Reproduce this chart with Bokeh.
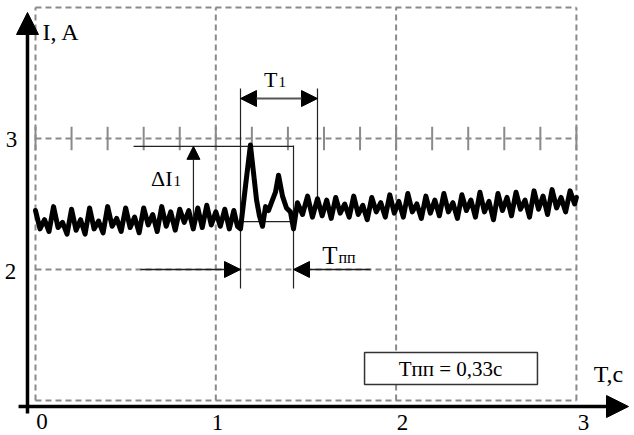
from bokeh.plotting import figure
from bokeh.models import Arrow, NormalHead, Label, Range1d
from bokeh.embed import file_html
from bokeh.resources import INLINE

# ---- data ----
t_vals = [0.000, 0.025, 0.050, 0.075, 0.100, 0.125, 0.150, 0.175, 0.200, 0.225,
          0.250, 0.275, 0.300, 0.325, 0.350, 0.375, 0.400, 0.425, 0.450, 0.475,
          0.500, 0.525, 0.550, 0.575, 0.600, 0.625, 0.650, 0.675, 0.700, 0.725,
          0.750, 0.775, 0.800, 0.825, 0.850, 0.875, 0.900, 0.925, 0.950, 0.975,
          1.000, 1.025, 1.050, 1.075, 1.100, 1.120, 1.137, 1.165, 1.192, 1.209,
          1.226, 1.242, 1.259, 1.276, 1.292, 1.314, 1.331, 1.348, 1.370, 1.392,
          1.414, 1.431, 1.453, 1.481, 1.509, 1.536, 1.564, 1.590, 1.615, 1.640,
          1.665, 1.690, 1.715, 1.740, 1.765, 1.790, 1.815, 1.840, 1.865, 1.890,
          1.915, 1.940, 1.965, 1.990, 2.015, 2.040, 2.065, 2.090, 2.115, 2.140,
          2.165, 2.190, 2.215, 2.240, 2.265, 2.290, 2.315, 2.340, 2.365, 2.390,
          2.415, 2.440, 2.465, 2.490, 2.515, 2.540, 2.565, 2.590, 2.615, 2.640,
          2.665, 2.690, 2.715, 2.740, 2.765, 2.790, 2.815, 2.840, 2.865, 2.890,
          2.915, 2.940, 2.965, 2.990, 3.000]
i_vals = [2.45, 2.31, 2.38, 2.29, 2.48, 2.32, 2.36, 2.27, 2.46, 2.30,
          2.38, 2.27, 2.47, 2.31, 2.37, 2.28, 2.48, 2.33, 2.39, 2.29,
          2.47, 2.32, 2.40, 2.28, 2.47, 2.34, 2.42, 2.29, 2.48, 2.33,
          2.44, 2.30, 2.46, 2.36, 2.45, 2.31, 2.47, 2.32, 2.49, 2.34,
          2.44, 2.33, 2.46, 2.31, 2.45, 2.33, 2.31, 2.64, 2.95, 2.74,
          2.53, 2.41, 2.33, 2.48, 2.45, 2.53, 2.59, 2.72, 2.56, 2.47,
          2.44, 2.31, 2.51, 2.42, 2.56, 2.40, 2.54, 2.41, 2.53, 2.39,
          2.55, 2.43, 2.50, 2.40, 2.56, 2.42, 2.49, 2.38, 2.55, 2.44,
          2.51, 2.40, 2.57, 2.43, 2.52, 2.40, 2.58, 2.44, 2.50, 2.39,
          2.56, 2.43, 2.53, 2.41, 2.58, 2.44, 2.51, 2.39, 2.57, 2.45,
          2.53, 2.40, 2.59, 2.44, 2.52, 2.38, 2.58, 2.45, 2.55, 2.41,
          2.59, 2.46, 2.53, 2.40, 2.60, 2.46, 2.56, 2.42, 2.61, 2.47,
          2.55, 2.44, 2.60, 2.50, 2.55]

grid_t = [0, 1, 2, 3]
grid_i = [1, 2, 3, 4]
tick_t = [0.0, 0.2, 0.4, 0.6, 0.8, 1.0, 1.2, 1.4, 1.6, 1.8, 2.0, 2.2, 2.4, 2.6, 2.8, 3.0]
x_tick_labels = ["0", "1", "2", "3"]
y_tick_labels = ["3", "2"]
box_text = "Tпп = 0,33c"

FONT = "Liberation Serif"

p = figure(width=634, height=435, x_range=Range1d(-0.1941, 3.3222),
           y_range=Range1d(0.7328, 4.0534), output_backend="svg",
           toolbar_location=None, x_axis_type=None, y_axis_type=None,
           min_border=0, min_border_left=0, min_border_right=0,
           min_border_top=0, min_border_bottom=0)
p.grid.visible = False
p.outline_line_color = None
p.background_fill_color = "white"
p.border_fill_color = "white"

GRID = "#8a8a8a"
# dashed grid
p.segment(x0=grid_t, x1=grid_t, y0=[grid_i[0]] * 4, y1=[grid_i[-1]] * 4,
          line_color=GRID, line_width=2, line_dash="6 4")
p.segment(x0=[grid_t[0]] * 4, x1=[grid_t[-1]] * 4, y0=grid_i, y1=grid_i,
          line_color=GRID, line_width=2, line_dash="6 4")
# small ticks on the I=3 line
p.segment(x0=tick_t, x1=tick_t, y0=[3 - 0.09] * len(tick_t), y1=[3 + 0.09] * len(tick_t),
          line_color=GRID, line_width=2)

# info box
p.quad(left=[1.825], right=[2.784], bottom=[1.122], top=[1.366],
       fill_color="white", line_color="#333333", line_width=1.5)

# thin construction lines
LC = "#222222"
p.segment(x0=[1.137, 1.431, 1.564, 0.544, 1.137],
          x1=[1.137, 1.431, 1.564, 1.431, 1.431],
          y0=[1.855, 1.855, 2.55, 2.94, 2.366],
          y1=[3.382, 2.947, 3.382, 2.94, 2.366],
          line_color=LC, line_width=1.2)

# signal
p.line(t_vals, i_vals, line_color="black", line_width=5, line_join="round",
       line_cap="round")

def head(sz):
    return NormalHead(size=sz, fill_color="black", line_color="black")

# axes
p.add_layout(Arrow(end=head(22), x_start=-0.0444, y_start=0.90, x_end=-0.0444, y_end=3.962,
                   line_color="black", line_width=3.5))
p.add_layout(Arrow(end=head(22), x_start=-0.094, y_start=0.954, x_end=3.289, y_end=0.954,
                   line_color="black", line_width=3.5))
# T1 double arrow
p.add_layout(Arrow(start=head(16), end=head(16), x_start=1.137, y_start=3.305,
                   x_end=1.564, y_end=3.305, line_color="#555555", line_width=2))
# delta I arrow
p.add_layout(Arrow(end=head(13), x_start=0.876, y_start=2.40, x_end=0.876, y_end=2.94,
                   line_color=LC, line_width=1.2))
# Tpp arrows
p.add_layout(Arrow(end=head(16), x_start=0.582, y_start=2.0, x_end=1.137, y_end=2.0,
                   line_color=LC, line_width=1.5))
p.add_layout(Arrow(end=head(16), x_start=1.858, y_start=2.0, x_end=1.431, y_end=2.0,
                   line_color=LC, line_width=1.5))

def lab(x, y, text, size, align="left"):
    p.add_layout(Label(x=x, y=y, text=text, text_font=FONT, text_font_size=size,
                       text_color="black", text_align=align, text_baseline="middle"))

lab(0.039, 3.813, "I, A", "24px")
for yy, tx, txt in zip([2.992, 1.985], [-0.133, -0.139], y_tick_labels):
    lab(tx, yy, txt, "23px", align="center")
for xx, yy, txt in zip([0.036, 1.009, 2.035, 3.039], [0.840, 0.832, 0.832, 0.832], x_tick_labels):
    lab(xx, yy, txt, "23px", align="center")
lab(3.178, 1.202, "T,c", "24px", align="center")
lab(2.302, 1.244, box_text, "21px", align="center")
lab(1.342, 3.454, "T", "22px", align="right")
lab(1.348, 3.431, "1", "15px")
lab(0.760, 2.691, "ΔI", "22px", align="right")
lab(0.765, 2.676, "1", "15px")
lab(1.675, 2.107, "T", "25px", align="right")
lab(1.680, 2.092, "пп", "16px")

open("out.html", "w").write(file_html(p, INLINE))
